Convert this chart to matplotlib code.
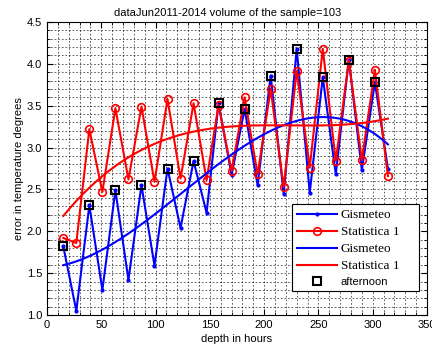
import numpy as np
import matplotlib.pyplot as plt
from matplotlib.ticker import MultipleLocator

# forecast depth (hours)
hours = [15, 27, 39, 51, 63, 75, 87, 99, 111, 123, 135, 147, 158,
         170, 182, 194, 206, 218, 230, 242, 254, 266, 278, 290, 302, 314]

# mean absolute error, degrees
gismeteo = [1.82, 1.05, 2.31, 1.30, 2.49, 1.42, 2.55, 1.59, 2.75, 2.04,
            2.84, 2.22, 3.53, 2.67, 3.46, 2.55, 3.86, 2.45, 4.18, 2.46,
            3.84, 2.68, 4.05, 2.73, 3.78, 2.75]
statistica = [1.92, 1.86, 3.22, 2.47, 3.47, 2.62, 3.49, 2.59, 3.58, 2.63,
              3.53, 2.61, 3.51, 2.72, 3.60, 2.68, 3.70, 2.53, 3.92, 2.76,
              4.18, 2.84, 4.04, 2.85, 3.93, 2.66]

# afternoon runs are every other point
afternoon_idx = list(range(0, len(hours), 2))

x = np.array(hours, dtype=float)
yg = np.array(gismeteo)
ys = np.array(statistica)

# cubic trend through each series
xt = np.linspace(x[0], x[-1], 200)
trend_g = np.polyval(np.polyfit(x, yg, 3), xt)
trend_s = np.polyval(np.polyfit(x, ys, 3), xt)

plt.rcParams['font.family'] = ['Liberation Sans', 'DejaVu Sans']

fig = plt.figure(figsize=(4.32, 3.48), dpi=100)
ax = fig.add_axes([0.1088, 0.0948, 0.8796, 0.842])

ax.plot(x, yg, color='blue', lw=1.5, marker='.', ms=4, label='Gismeteo')
ax.plot(x, ys, color='red', lw=1.5, marker='o', ms=5.5, mfc='none', mew=1.2,
        label='Statistica 1')
ax.plot(xt, trend_g, color='blue', lw=1.5, label='Gismeteo')
ax.plot(xt, trend_s, color='red', lw=1.5, label='Statistica 1')
ax.plot(x[afternoon_idx], yg[afternoon_idx], ls='none', marker='s', ms=5.5,
        mfc='none', mec='black', mew=1.5, label='afternoon')

ax.set_xlim(0, 350)
ax.set_ylim(1, 4.5)
ax.xaxis.set_major_locator(MultipleLocator(50))
ax.xaxis.set_minor_locator(MultipleLocator(10))
ax.yaxis.set_major_locator(MultipleLocator(0.5))
ax.yaxis.set_minor_locator(MultipleLocator(0.1))
ax.tick_params(which='both', direction='in', top=True, right=True, labelsize=8)
ax.tick_params(which='major', length=4)
ax.tick_params(which='minor', length=2)
ax.grid(True, which='both', color='black', ls=(0, (2.2, 2.5)), lw=0.55, alpha=0.8)
ax.set_axisbelow(True)
for s in ax.spines.values():
    s.set_linewidth(0.8)

ax.set_title('dataJun2011-2014 volume of the sample=103', fontsize=8, pad=4,
             x=0.475)
ax.set_xlabel('depth in hours', fontsize=8, labelpad=3)
ax.set_ylabel('error in temperature degrees', fontsize=8, labelpad=2)

leg = ax.legend(loc='lower left', bbox_to_anchor=(0.645, 0.082, 0.334, 0.293),
                mode='expand', borderaxespad=0, fontsize=8,
                fancybox=False, edgecolor='black', framealpha=1,
                handlelength=3.6, handletextpad=0.4, borderpad=0.4,
                labelspacing=0.45)
leg.get_frame().set_linewidth(0.8)
for t in leg.get_texts()[:4]:
    t.set_family('Liberation Serif')
    t.set_fontsize(9.5)

fig.savefig('out.png', dpi=100)
